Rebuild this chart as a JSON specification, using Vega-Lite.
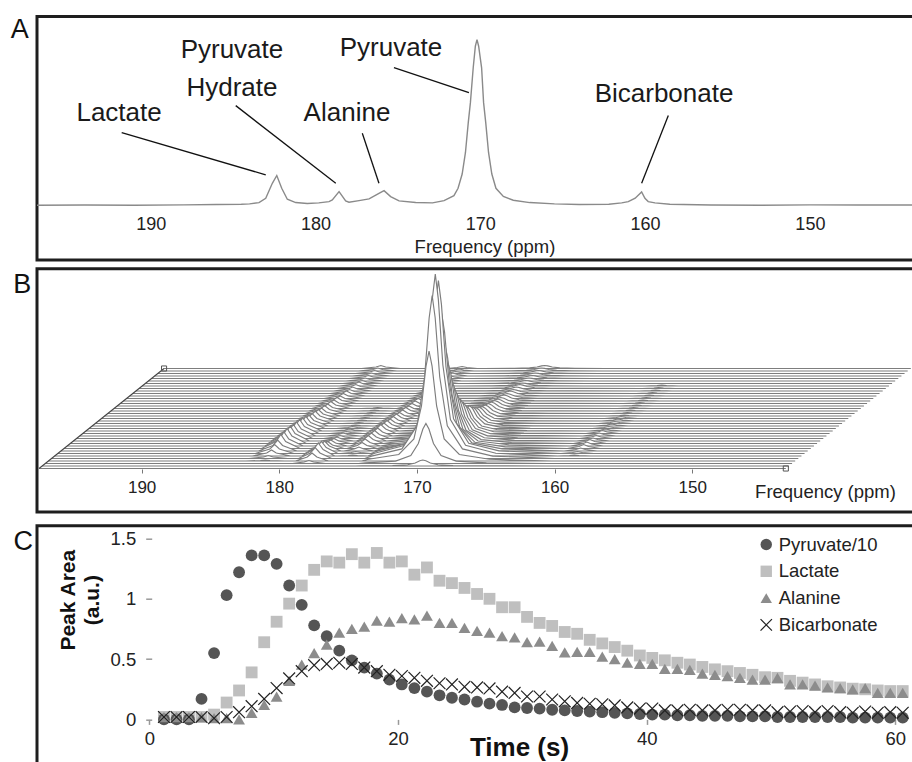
{
"$schema":"https://vega.github.io/schema/vega-lite/v6.json",
"background":"white",
"padding":{"left":9,"top":13.5,"right":0,"bottom":0},
"config":{"font":"Liberation Sans","view":{"stroke":"#1e1e1e","strokeWidth":3},
"axis":{"grid":false,"labelFont":"Liberation Sans","titleFont":"Liberation Sans","labelColor":"#222","titleColor":"#222","labelFlush":false,"labelOverlap":false},
"legend":{"orient":"none","legendX":720,"legendY":518.75,"labelFontSize":18.5,"labelColor":"#222","rowPadding":7.8,"labelOffset":3.2,"symbolSize":130,"padding":0,"symbolStrokeWidth":1.2,"labelFont":"Liberation Sans"}},
"spacing":5.2,
"vconcat":[
{"spacing":0,"vconcat":[
{"width":880,"height":243.5,
"title":{"text":"A","anchor":"start","dx":-23.5,"offset":-48,"baseline":"alphabetic","fontSize":27,"fontWeight":"normal","color":"#111"},
"layer":[
{"data":{"values":[
{"f":196.9,"v":0.2},{"f":194,"v":0.3},{"f":191,"v":0.2},{"f":188,"v":0.4},{"f":186,"v":0.6},{"f":184.5,"v":0.8},{"f":184,"v":1.0},{"f":183.43,"v":1.8},{"f":183.02,"v":4.4},{"f":182.62,"v":13.4},{"f":182.35,"v":18.1},{"f":182.05,"v":10.4},{"f":181.71,"v":3.8},{"f":181.2,"v":1.8},{"f":180.5,"v":1.2},{"f":179.8,"v":1.6},{"f":179.18,"v":2.4},{"f":178.98,"v":3.4},{"f":178.57,"v":8.4},{"f":178.17,"v":2.8},{"f":177.97,"v":2.0},{"f":177.36,"v":3.0},{"f":176.75,"v":4.0},{"f":176.15,"v":7.4},{"f":175.84,"v":9.0},{"f":175.44,"v":5.4},{"f":174.93,"v":2.8},{"f":173.92,"v":1.8},{"f":172.9,"v":1.6},{"f":172.2,"v":3.0},{"f":171.6,"v":6},{"f":171.35,"v":10.4},{"f":171.1,"v":19},{"f":170.9,"v":32},{"f":170.73,"v":50},{"f":170.6,"v":62},{"f":170.43,"v":83},{"f":170.3,"v":96},{"f":170.2,"v":100},{"f":170.1,"v":96},{"f":169.92,"v":83},{"f":169.8,"v":62},{"f":169.67,"v":50},{"f":169.5,"v":32},{"f":169.3,"v":19},{"f":169.05,"v":10.4},{"f":168.6,"v":5.5},{"f":168.0,"v":3.2},{"f":167.0,"v":1.8},{"f":165.5,"v":1.0},{"f":164,"v":0.6},{"f":162.2,"v":0.8},{"f":161.42,"v":1.6},{"f":161.02,"v":2.4},{"f":160.6,"v":4.4},{"f":160.21,"v":8.2},{"f":160.01,"v":4.4},{"f":159.81,"v":2.4},{"f":159.4,"v":1.6},{"f":158.5,"v":0.8},{"f":156,"v":0.3},{"f":153,"v":0.2},{"f":150,"v":0.4},{"f":147,"v":0.3},{"f":143.5,"v":0.3}]},
"mark":{"type":"line","color":"#8a8a8a","strokeWidth":1.4},
"encoding":{"x":{"field":"f","type":"quantitative","scale":{"domain":[143.5,196.9],"reverse":true,"nice":false,"zero":false},
"axis":{"values":[190,180,170,160,150],"domain":false,"ticks":false,"tickSize":0,"labelPadding":0,"offset":-44.8,"labelFontSize":18,"title":"Frequency (ppm)","titleFontSize":18.5,"titleFontWeight":"normal","titleX":447.5,"titleY":37.3,"titleBaseline":"alphabetic","titleAlign":"center"}},
"y":{"field":"v","type":"quantitative","scale":{"domain":[-32.8,113.9],"nice":false,"zero":false},"axis":null}}},
{"data":{"values":[{"x1":191.76,"y1":44.0,"x2":183.02,"y2":18.5},{"x1":184.84,"y1":60.2,"x2":178.77,"y2":13.4},{"x1":177.16,"y1":43.6,"x2":176.15,"y2":13.4},{"x1":175.24,"y1":83.1,"x2":170.69,"y2":68.1},{"x1":158.59,"y1":54.2,"x2":160.21,"y2":13.4}]},
"mark":{"type":"rule","color":"#111","strokeWidth":1.3},
"encoding":{"x":{"field":"x1","type":"quantitative","scale":{"domain":[143.5,196.9],"reverse":true,"nice":false,"zero":false}},"y":{"field":"y1","type":"quantitative","scale":{"domain":[-32.8,113.9],"nice":false,"zero":false}},"x2":{"field":"x2"},"y2":{"field":"y2"}}},
{"data":{"values":[{"label":"Lactate","x":191.92,"y":51.2},{"label":"Pyruvate","x":185.07,"y":88.7},{"label":"Hydrate","x":185.07,"y":66.3},{"label":"Alanine","x":178.09,"y":51.2},{"label":"Pyruvate","x":175.42,"y":90.1},{"label":"Bicarbonate","x":158.85,"y":62.2}]},
"mark":{"type":"text","fontSize":26,"color":"#1a1a1a","baseline":"alphabetic","align":"center"},
"encoding":{"x":{"field":"x","type":"quantitative","scale":{"domain":[143.5,196.9],"reverse":true,"nice":false,"zero":false}},"y":{"field":"y","type":"quantitative","scale":{"domain":[-32.8,113.9],"nice":false,"zero":false}},"text":{"field":"label"}}}
]}
]},
{"spacing":10,"vconcat":[
{"width":880,"height":243.3,
"title":{"text":"B","anchor":"start","dx":-23.5,"offset":-51.6,"baseline":"alphabetic","fontSize":27,"fontWeight":"normal","color":"#111"},
"layer":[
{"data":{"values":[
{"i":40,"f":[197.45,183.1,182.05,181.7,181.35,180.3,179.5,178.65,178.3,177.95,177.1,176.9,176.15,175.8,175.45,174.7,174.2,172.0,170.9,170.35,170.02,169.8,169.58,169.25,168.7,167.6,165.4,160.9,160.05,159.7,159.35,158.5,143.2],"v":[0,0,1.5,3,1.5,0,0,0,0,0,0,0,1,2,1,0,0,0.2,0.6,1.5,2.6,3,2.6,1.5,0.6,0.2,0,0,0,0,0,0,0]},
{"i":39,"f":[197.45,183.1,182.05,181.7,181.35,180.3,179.5,178.65,178.3,177.95,177.1,176.9,176.15,175.8,175.45,174.7,174.2,172.0,170.9,170.35,170.02,169.8,169.58,169.25,168.7,167.6,165.4,160.9,160.05,159.7,159.35,158.5,143.2],"v":[0,0,1.5,3,1.5,0,0,0,0,0,0,0,1,2,1,0,0,0.2,0.6,1.5,2.6,3,2.6,1.5,0.6,0.2,0,0,0,0,0,0,0]},
{"i":38,"f":[197.45,183.1,182.05,181.7,181.35,180.3,179.5,178.65,178.3,177.95,177.1,176.9,176.15,175.8,175.45,174.7,174.2,172.0,170.9,170.35,170.02,169.8,169.58,169.25,168.7,167.6,165.4,160.9,160.05,159.7,159.35,158.5,143.2],"v":[0,0,1.5,3,1.5,0,0,0,0,0,0,0,1,2,1,0,0,0.2,0.6,1.5,2.6,3,2.6,1.5,0.6,0.2,0,0,0,0,0,0,0]},
{"i":37,"f":[197.45,183.1,182.05,181.7,181.35,180.3,179.5,178.65,178.3,177.95,177.1,176.9,176.15,175.8,175.45,174.7,174.2,172.0,170.9,170.35,170.02,169.8,169.58,169.25,168.7,167.6,165.4,160.9,160.05,159.7,159.35,158.5,143.2],"v":[0,0,1.5,3,1.5,0,0,0,0,0,0,0,1.5,3,1.5,0,0,0.2,0.6,1.5,2.6,3,2.6,1.5,0.6,0.2,0,0,0,0,0,0,0]},
{"i":36,"f":[197.45,183.1,182.05,181.7,181.35,180.3,179.5,178.65,178.3,177.95,177.1,176.9,176.15,175.8,175.45,174.7,174.2,172.0,170.9,170.35,170.02,169.8,169.58,169.25,168.7,167.6,165.4,160.9,160.05,159.7,159.35,158.5,143.2],"v":[0,0,1.5,3,1.5,0,0,0,0,0,0,0,1.5,3,1.5,0,0,0.2,0.6,1.5,2.6,3,2.6,1.5,0.6,0.2,0,0,0,0,0,0,0]},
{"i":35,"f":[197.45,183.1,182.05,181.7,181.35,180.3,179.5,178.65,178.3,177.95,177.1,176.9,176.15,175.8,175.45,174.7,174.2,172.0,170.9,170.35,170.02,169.8,169.58,169.25,168.7,167.6,165.4,160.9,160.05,159.7,159.35,158.5,143.2],"v":[0,0,1.5,3,1.5,0,0,0,0,0,0,0,1.5,3,1.5,0,0,0.2,0.6,1.5,2.6,3,2.6,1.5,0.6,0.2,0,0,0,0,0,0,0]},
{"i":34,"f":[197.45,183.1,182.05,181.7,181.35,180.3,179.5,178.65,178.3,177.95,177.1,176.9,176.15,175.8,175.45,174.7,174.2,172.0,170.9,170.35,170.02,169.8,169.58,169.25,168.7,167.6,165.4,160.9,160.05,159.7,159.35,158.5,143.2],"v":[0,0,1.5,3,1.5,0,0,0,0,0,0,0,1.5,3,1.5,0,0,0.2,0.6,1.5,2.6,3,2.6,1.5,0.6,0.2,0,0,0,0,0,0,0]},
{"i":33,"f":[197.45,183.1,182.05,181.7,181.35,180.3,179.5,178.65,178.3,177.95,177.1,176.9,176.15,175.8,175.45,174.7,174.2,172.0,170.9,170.35,170.02,169.8,169.58,169.25,168.7,167.6,165.4,160.9,160.05,159.7,159.35,158.5,143.2],"v":[0,0,2,4,2,0,0,0,0,0,0,0,1.5,3,1.5,0,0,0.2,0.6,1.5,2.6,3,2.6,1.5,0.6,0.2,0,0,0.5,1,0.5,0,0]},
{"i":32,"f":[197.45,183.1,182.05,181.7,181.35,180.3,179.5,178.65,178.3,177.95,177.1,176.9,176.15,175.8,175.45,174.7,174.2,172.0,170.9,170.35,170.02,169.8,169.58,169.25,168.7,167.6,165.4,160.9,160.05,159.7,159.35,158.5,143.2],"v":[0,0,2,4,2,0,0,0,0,0,0,0,1.5,3,1.5,0,0.1,0.2,0.8,2,3.4,4,3.4,2,0.8,0.2,0.1,0,0.5,1,0.5,0,0]},
{"i":31,"f":[197.45,183.1,182.05,181.7,181.35,180.3,179.5,178.65,178.3,177.95,177.1,176.9,176.15,175.8,175.45,174.7,174.2,172.0,170.9,170.35,170.02,169.8,169.58,169.25,168.7,167.6,165.4,160.9,160.05,159.7,159.35,158.5,143.2],"v":[0,0,2,4,2,0,0,0,0,0,0,0,1.5,3,1.5,0,0.1,0.2,0.8,2,3.4,4,3.4,2,0.8,0.2,0.1,0,0.5,1,0.5,0,0]},
{"i":30,"f":[197.45,183.1,182.05,181.7,181.35,180.3,179.5,178.65,178.3,177.95,177.1,176.9,176.15,175.8,175.45,174.7,174.2,172.0,170.9,170.35,170.02,169.8,169.58,169.25,168.7,167.6,165.4,160.9,160.05,159.7,159.35,158.5,143.2],"v":[0,0,2,4,2,0,0,0,0,0,0,0,2,4,2,0,0.1,0.2,0.8,2,3.4,4,3.4,2,0.8,0.2,0.1,0,0.5,1,0.5,0,0]},
{"i":29,"f":[197.45,183.1,182.05,181.7,181.35,180.3,179.5,178.65,178.3,177.95,177.1,176.9,176.15,175.8,175.45,174.7,174.2,172.0,170.9,170.35,170.02,169.8,169.58,169.25,168.7,167.6,165.4,160.9,160.05,159.7,159.35,158.5,143.2],"v":[0,0,2.5,5,2.5,0,0,0,0,0,0,0,2,4,2,0,0.1,0.3,1,2.5,4.3,5,4.3,2.5,1,0.3,0.1,0,0.5,1,0.5,0,0]},
{"i":28,"f":[197.45,183.1,182.05,181.7,181.35,180.3,179.5,178.65,178.3,177.95,177.1,176.9,176.15,175.8,175.45,174.7,174.2,172.0,170.9,170.35,170.02,169.8,169.58,169.25,168.7,167.6,165.4,160.9,160.05,159.7,159.35,158.5,143.2],"v":[0,0,2.5,5,2.5,0,0,0,0,0,0,0,2,4,2,0,0.1,0.3,1,2.5,4.3,5,4.3,2.5,1,0.3,0.1,0,0.5,1,0.5,0,0]},
{"i":27,"f":[197.45,183.1,182.05,181.7,181.35,180.3,179.5,178.65,178.3,177.95,177.1,176.9,176.15,175.8,175.45,174.7,174.2,172.0,170.9,170.35,170.02,169.8,169.58,169.25,168.7,167.6,165.4,160.9,160.05,159.7,159.35,158.5,143.2],"v":[0,0,2.5,5,2.5,0,0,0,0,0,0,0,2,4,2,0,0.1,0.4,1.2,3,5.2,6,5.2,3,1.2,0.4,0.1,0,0.5,1,0.5,0,0]},
{"i":26,"f":[197.45,183.1,182.05,181.7,181.35,180.3,179.5,178.65,178.3,177.95,177.1,176.9,176.15,175.8,175.45,174.7,174.2,172.0,170.9,170.35,170.02,169.8,169.58,169.25,168.7,167.6,165.4,160.9,160.05,159.7,159.35,158.5,143.2],"v":[0,0,3,6,3,0,0,0,0,0,0,0,2.5,5,2.5,0,0.1,0.4,1.2,3,5.2,6,5.2,3,1.2,0.4,0.1,0,0.5,1,0.5,0,0]},
{"i":25,"f":[197.45,183.1,182.05,181.7,181.35,180.3,179.5,178.65,178.3,177.95,177.1,176.9,176.15,175.8,175.45,174.7,174.2,172.0,170.9,170.35,170.02,169.8,169.58,169.25,168.7,167.6,165.4,160.9,160.05,159.7,159.35,158.5,143.2],"v":[0,0,3,6,3,0,0,0,0,0,0,0,2.5,5,2.5,0,0.1,0.4,1.4,3.5,6,7,6,3.5,1.4,0.4,0.1,0,0.5,1,0.5,0,0]},
{"i":24,"f":[197.45,183.1,182.05,181.7,181.35,180.3,179.5,178.65,178.3,177.95,177.1,176.9,176.15,175.8,175.45,174.7,174.2,172.0,170.9,170.35,170.02,169.8,169.58,169.25,168.7,167.6,165.4,160.9,160.05,159.7,159.35,158.5,143.2],"v":[0,0,3.5,7,3.5,0,0,0.5,1,0.5,0,0,2.5,5,2.5,0,0.1,0.5,1.6,4,6.9,8,6.9,4,1.6,0.5,0.1,0,0.5,1,0.5,0,0]},
{"i":23,"f":[197.45,183.1,182.05,181.7,181.35,180.3,179.5,178.65,178.3,177.95,177.1,176.9,176.15,175.8,175.45,174.7,174.2,172.0,170.9,170.35,170.02,169.8,169.58,169.25,168.7,167.6,165.4,160.9,160.05,159.7,159.35,158.5,143.2],"v":[0,0,3.5,7,3.5,0,0,0.5,1,0.5,0,0,2.5,5,2.5,0,0.1,0.5,1.8,4.5,7.8,9,7.8,4.5,1.8,0.5,0.1,0,0.5,1,0.5,0,0]},
{"i":22,"f":[197.45,183.1,182.05,181.7,181.35,180.3,179.5,178.65,178.3,177.95,177.1,176.9,176.15,175.8,175.45,174.7,174.2,172.0,170.9,170.35,170.02,169.8,169.58,169.25,168.7,167.6,165.4,160.9,160.05,159.7,159.35,158.5,143.2],"v":[0,0,4,8,4,0,0,0.5,1,0.5,0,0,3,6,3,0,0.2,0.6,2,5,8.6,10,8.6,5,2,0.6,0.2,0,0.5,1,0.5,0,0]},
{"i":21,"f":[197.45,183.1,182.05,181.7,181.35,180.3,179.5,178.65,178.3,177.95,177.1,176.9,176.15,175.8,175.45,174.7,174.2,172.0,170.9,170.35,170.02,169.8,169.58,169.25,168.7,167.6,165.4,160.9,160.05,159.7,159.35,158.5,143.2],"v":[0,0,4,8,4,0,0,0.5,1,0.5,0,0,3,6,3,0,0.2,0.6,2.2,5.5,9.5,11,9.5,5.5,2.2,0.6,0.2,0,0.5,1,0.5,0,0]},
{"i":20,"f":[197.45,183.1,182.05,181.7,181.35,180.3,179.5,178.65,178.3,177.95,177.1,176.9,176.15,175.8,175.45,174.7,174.2,172.0,170.9,170.35,170.02,169.8,169.58,169.25,168.7,167.6,165.4,160.9,160.05,159.7,159.35,158.5,143.2],"v":[0,0,4.5,9,4.5,0,0,0.5,1,0.5,0,0,3,6,3,0,0.2,0.7,2.4,6,10.3,12,10.3,6,2.4,0.7,0.2,0,1,2,1,0,0]},
{"i":19,"f":[197.45,183.1,182.05,181.7,181.35,180.3,179.5,178.65,178.3,177.95,177.1,176.9,176.15,175.8,175.45,174.7,174.2,172.0,170.9,170.35,170.02,169.8,169.58,169.25,168.7,167.6,165.4,160.9,160.05,159.7,159.35,158.5,143.2],"v":[0,0,5,10,5,0,0,0.5,1,0.5,0,0,3.5,7,3.5,0,0.2,0.8,2.8,7,12.1,14,12.1,7,2.8,0.8,0.2,0,1,2,1,0,0]},
{"i":18,"f":[197.45,183.1,182.05,181.7,181.35,180.3,179.5,178.65,178.3,177.95,177.1,176.9,176.15,175.8,175.45,174.7,174.2,172.0,170.9,170.35,170.02,169.8,169.58,169.25,168.7,167.6,165.4,160.9,160.05,159.7,159.35,158.5,143.2],"v":[0,0,5,10,5,0,0,0.5,1,0.5,0,0,3.5,7,3.5,0,0.2,0.9,3.2,8,13.8,16,13.8,8,3.2,0.9,0.2,0,1,2,1,0,0]},
{"i":17,"f":[197.45,183.1,182.05,181.7,181.35,180.3,179.5,178.65,178.3,177.95,177.1,176.9,176.15,175.8,175.45,174.7,174.2,172.0,170.9,170.35,170.02,169.8,169.58,169.25,168.7,167.6,165.4,160.9,160.05,159.7,159.35,158.5,143.2],"v":[0,0,5.5,11,5.5,0,0,0.5,1,0.5,0,0,3.5,7,3.5,0,0.3,1.1,3.8,9.5,16.4,19,16.4,9.5,3.8,1.1,0.3,0,1,2,1,0,0]},
{"i":16,"f":[197.45,183.1,182.05,181.7,181.35,180.3,179.5,178.65,178.3,177.95,177.1,176.9,176.15,175.8,175.45,174.7,174.2,172.0,170.9,170.35,170.02,169.8,169.58,169.25,168.7,167.6,165.4,160.9,160.05,159.7,159.35,158.5,143.2],"v":[0,0,6,12,6,0,0,1,2,1,0,0,4,8,4,0,0.3,1.4,4.6,11.5,19.8,23,19.8,11.5,4.6,1.4,0.3,0,1,2,1,0,0]},
{"i":15,"f":[197.45,183.1,182.05,181.7,181.35,180.3,179.5,178.65,178.3,177.95,177.1,176.9,176.15,175.8,175.45,174.7,174.2,172.0,170.9,170.35,170.02,169.8,169.58,169.25,168.7,167.6,165.4,160.9,160.05,159.7,159.35,158.5,143.2],"v":[0,0,6.5,13,6.5,0,0,1,2,1,0,0,4,8,4,0,0.4,1.5,5,12.5,21.6,25,21.6,12.5,5,1.5,0.4,0,1,2,1,0,0]},
{"i":14,"f":[197.45,183.1,182.05,181.7,181.35,180.3,179.5,178.65,178.3,177.95,177.1,176.9,176.15,175.8,175.45,174.7,174.2,172.0,170.9,170.35,170.02,169.8,169.58,169.25,168.7,167.6,165.4,160.9,160.05,159.7,159.35,158.5,143.2],"v":[0,0,7,14,7,0,0,1,2,1,0,0,4.5,9,4.5,0,0.5,1.8,6.2,15.5,26.7,31,26.7,15.5,6.2,1.8,0.5,0,1.5,3,1.5,0,0]},
{"i":13,"f":[197.45,183.1,182.05,181.7,181.35,180.3,179.5,178.65,178.3,177.95,177.1,176.9,176.15,175.8,175.45,174.7,174.2,172.0,170.9,170.35,170.02,169.8,169.58,169.25,168.7,167.6,165.4,160.9,160.05,159.7,159.35,158.5,143.2],"v":[0,0,7,14,7,0,0,1.5,3,1.5,0,0,4,8,4,0,0.6,2.2,7.4,18.5,31.9,37,31.9,18.5,7.4,2.2,0.6,0,1.5,3,1.5,0,0]},
{"i":12,"f":[197.45,183.1,182.05,181.7,181.35,180.3,179.5,178.65,178.3,177.95,177.1,176.9,176.15,175.8,175.45,174.7,174.2,172.0,170.9,170.35,170.02,169.8,169.58,169.25,168.7,167.6,165.4,160.9,160.05,159.7,159.35,158.5,143.2],"v":[0,0,7,14,7,0,0,1.5,3,1.5,0,0,4,8,4,0,0.7,2.6,8.8,22,37.9,44,37.9,22,8.8,2.6,0.7,0,1.5,3,1.5,0,0]},
{"i":11,"f":[197.45,183.1,182.05,181.7,181.35,180.3,179.5,178.65,178.3,177.95,177.1,176.9,176.15,175.8,175.45,174.7,174.2,172.0,170.9,170.35,170.02,169.8,169.58,169.25,168.7,167.6,165.4,160.9,160.05,159.7,159.35,158.5,143.2],"v":[0,0,7.5,15,7.5,0,0,2,4,2,0,0,4,8,4,0,0.8,3.2,10.8,27,46.5,54,46.5,27,10.8,3.2,0.8,0,1.5,3,1.5,0,0]},
{"i":10,"f":[197.45,183.1,182.05,181.7,181.35,180.3,179.5,178.65,178.3,177.95,177.1,176.9,176.15,175.8,175.45,174.7,174.2,172.0,170.9,170.35,170.02,169.8,169.58,169.25,168.7,167.6,165.4,160.9,160.05,159.7,159.35,158.5,143.2],"v":[0,0,7.5,15,7.5,0,0,2.5,5,2.5,0,0,4,8,4,0,1,3.9,13.2,33,56.9,66,56.9,33,13.2,3.9,1,0,2,4,2,0,0]},
{"i":9,"f":[197.45,183.1,182.05,181.7,181.35,180.3,179.5,178.65,178.3,177.95,177.1,176.9,176.15,175.8,175.45,174.7,174.2,172.0,170.9,170.35,170.02,169.8,169.58,169.25,168.7,167.6,165.4,160.9,160.05,159.7,159.35,158.5,143.2],"v":[0,0,7,14,7,0,0,3,6,3,0,0,3.5,7,3.5,0,1.3,5,16.8,42,72.4,84,72.4,42,16.8,5,1.3,0,2,4,2,0,0]},
{"i":8,"f":[197.45,183.1,182.05,181.7,181.35,180.3,179.5,178.65,178.3,177.95,177.1,176.9,176.15,175.8,175.45,174.7,174.2,172.0,170.9,170.35,170.02,169.8,169.58,169.25,168.7,167.6,165.4,160.9,160.05,159.7,159.35,158.5,143.2],"v":[0,0,7,14,7,0,0,3.5,7,3.5,0,0,3,6,3,0,1.6,6.2,21,52.5,90.5,105,90.5,52.5,21,6.2,1.6,0,2,4,2,0,0]},
{"i":7,"f":[197.45,183.1,182.05,181.7,181.35,180.3,179.5,178.65,178.3,177.95,177.1,176.9,176.15,175.8,175.45,174.7,174.2,172.0,170.9,170.35,170.02,169.8,169.58,169.25,168.7,167.6,165.4,160.9,160.05,159.7,159.35,158.5,143.2],"v":[0,0,5.5,11,5.5,0,0,5,10,5,0,0,2,4,2,0,2.1,8.1,27.6,69,119,138,119,69,27.6,8.1,2.1,0,1.5,3,1.5,0,0]},
{"i":6,"f":[197.45,183.1,182.05,181.7,181.35,180.3,179.5,178.65,178.3,177.95,177.1,176.9,176.15,175.8,175.45,174.7,174.2,172.0,170.9,170.35,170.02,169.8,169.58,169.25,168.7,167.6,165.4,160.9,160.05,159.7,159.35,158.5,143.2],"v":[0,0,4.5,9,4.5,0,0,6,12,6,0,0,1,2,1,0,2.6,10.2,34.6,86.5,149.1,173,149.1,86.5,34.6,10.2,2.6,0,1,2,1,0,0]},
{"i":5,"f":[197.45,183.1,182.05,181.7,181.35,180.3,179.5,178.65,178.3,177.95,177.1,176.9,176.15,175.8,175.45,174.7,174.2,172.0,170.9,170.35,170.02,169.8,169.58,169.25,168.7,167.6,165.4,160.9,160.05,159.7,159.35,158.5,143.2],"v":[0,0,3,6,3,0,0,6.5,13,6.5,0,0,0.5,1,0.5,0,2.7,10.7,36.4,91,156.9,182,156.9,91,36.4,10.7,2.7,0,0.5,1,0.5,0,0]},
{"i":4,"f":[197.45,183.1,182.05,181.7,181.35,180.3,179.5,178.65,178.3,177.95,177.1,176.9,176.15,175.8,175.45,174.7,174.2,172.0,170.9,170.35,170.02,169.8,169.58,169.25,168.7,167.6,165.4,160.9,160.05,159.7,159.35,158.5,143.2],"v":[0,0,1.5,3,1.5,0,0,5.5,11,5.5,0,0,0,0,0,0,2.4,9.6,32.6,81.5,140.5,163,140.5,81.5,32.6,9.6,2.4,0,0,0,0,0,0]},
{"i":3,"f":[197.45,183.1,182.05,181.7,181.35,180.3,179.5,178.65,178.3,177.95,177.1,176.9,176.15,175.8,175.45,174.7,174.2,172.0,170.9,170.35,170.02,169.8,169.58,169.25,168.7,167.6,165.4,160.9,160.05,159.7,159.35,158.5,143.2],"v":[0,0,0.5,1,0.5,0,0,4,8,4,0,0,0,0,0,0,1.7,6.5,22,55,94.8,110,94.8,55,22,6.5,1.7,0,0,0,0,0,0]},
{"i":2,"f":[197.45,183.1,182.05,181.7,181.35,180.3,179.5,178.65,178.3,177.95,177.1,176.9,176.15,175.8,175.45,174.7,174.2,172.0,170.9,170.35,170.02,169.8,169.58,169.25,168.7,167.6,165.4,160.9,160.05,159.7,159.35,158.5,143.2],"v":[0,0,0,0,0,0,0,1.5,3,1.5,0,0,0,0,0,0,0.6,2.4,8,20,34.5,40,34.5,20,8,2.4,0.6,0,0,0,0,0,0]},
{"i":1,"f":[197.45,183.1,182.05,181.7,181.35,180.3,179.5,178.65,178.3,177.95,177.1,176.9,176.15,175.8,175.45,174.7,174.2,172.0,170.9,170.35,170.02,169.8,169.58,169.25,168.7,167.6,165.4,160.9,160.05,159.7,159.35,158.5,143.2],"v":[0,0,0,0,0,0,0,0,0,0,0,0,0,0,0,0,0.1,0.4,1.2,3,5.2,6,5.2,3,1.2,0.4,0.1,0,0,0,0,0,0]},
{"i":0,"f":[197.45,183.1,182.05,181.7,181.35,180.3,179.5,178.65,178.3,177.95,177.1,176.9,176.15,175.8,175.45,174.7,174.2,172.0,170.9,170.35,170.02,169.8,169.58,169.25,168.7,167.6,165.4,160.9,160.05,159.7,159.35,158.5,143.2],"v":[0,0,0,0,0,0,0,0,0,0,0,0,0,0,0,0,0,0,0,0,0,0,0,0,0,0,0,0,0,0,0,0,0]}
]},
"transform":[{"flatten":["f","v"]},{"calculate":"datum.f - datum.i*0.227","as":"xs"},{"calculate":"datum.i*2.5","as":"yb"},{"calculate":"datum.i*2.5 + datum.v","as":"ys"}],
"mark":{"type":"area","fill":"white","fillOpacity":1,"stroke":"#7d7d7d","strokeWidth":1.15},
"encoding":{"x":{"field":"xs","type":"quantitative","scale":{"domain":[133.67,197.6],"reverse":true,"nice":false,"zero":false},
"axis":{"values":[190,180,170,160,150],"domain":false,"ticks":true,"tickSize":4,"tickColor":"#777","tickWidth":1,"offset":-43,"labelPadding":6.4,"labelFontSize":17,"title":"Frequency (ppm)","titleFontSize":18.5,"titleFontWeight":"normal","titleX":788,"titleY":28.3,"titleBaseline":"alphabetic","titleAlign":"center"}},
"y":{"field":"ys","type":"quantitative","stack":null,"scale":{"domain":[-43.5,199.8],"nice":false,"zero":false},"axis":null},
"y2":{"field":"yb"},
"detail":{"field":"i","type":"quantitative"}}},
{"data":{"values":[{"i":0,"f":197.45},{"i":40,"f":197.45}]},
"transform":[{"calculate":"datum.f - datum.i*0.227","as":"xs"},{"calculate":"datum.i*2.5","as":"ys"}],
"mark":{"type":"line","color":"#444","strokeWidth":1.1},
"encoding":{"x":{"field":"xs","type":"quantitative","scale":{"domain":[133.67,197.6],"reverse":true,"nice":false,"zero":false}},"y":{"field":"ys","type":"quantitative","scale":{"domain":[-43.5,199.8],"nice":false,"zero":false}}}},
{"data":{"values":[{"i":40,"f":197.45},{"i":0,"f":143.2}]},
"transform":[{"calculate":"datum.f - datum.i*0.227","as":"xs"},{"calculate":"datum.i*2.5","as":"ys"}],
"mark":{"type":"point","shape":"square","size":26,"filled":false,"color":"#555","strokeWidth":1,"opacity":1},
"encoding":{"x":{"field":"xs","type":"quantitative","scale":{"domain":[133.67,197.6],"reverse":true,"nice":false,"zero":false}},"y":{"field":"ys","type":"quantitative","scale":{"domain":[-43.5,199.8],"nice":false,"zero":false}}}}
]},
{"width":880,"height":245,
"title":{"text":"C","anchor":"start","dx":-23.5,"offset":-51.7,"baseline":"alphabetic","fontSize":27,"fontWeight":"normal","color":"#111"},
"layer":[
{"mark":{"type":"rule","color":"#999","strokeWidth":1.5},
"encoding":{"x":{"datum":0,"type":"quantitative","scale":{"domain":[-9.03,61.74],"nice":false,"zero":false}},"y":{"datum":0,"type":"quantitative","scale":{"domain":[-0.425,1.606],"nice":false,"zero":false}},"y2":{"datum":1.5}}},
{"mark":{"type":"rule","color":"#999","strokeWidth":1.5},
"encoding":{"x":{"datum":0,"type":"quantitative","scale":{"domain":[-9.03,61.74],"nice":false,"zero":false}},"x2":{"datum":61.74},"y":{"datum":0,"type":"quantitative","scale":{"domain":[-0.425,1.606],"nice":false,"zero":false}}}},
{"data":{"values":[
{"t":1.18,"Pyruvate/10":0,"Lactate":0.02,"Alanine":0.02,"Bicarbonate":0.02},
{"t":2.19,"Pyruvate/10":0,"Lactate":0.02,"Alanine":0.02,"Bicarbonate":0.02},
{"t":3.19,"Pyruvate/10":0,"Lactate":0.02,"Alanine":0.02,"Bicarbonate":0.02},
{"t":4.2,"Pyruvate/10":0.17,"Lactate":0.02,"Alanine":0.02,"Bicarbonate":0.02},
{"t":5.21,"Pyruvate/10":0.55,"Lactate":0.04,"Alanine":0.01,"Bicarbonate":0.01},
{"t":6.22,"Pyruvate/10":1.03,"Lactate":0.14,"Alanine":0.01,"Bicarbonate":0.02},
{"t":7.22,"Pyruvate/10":1.22,"Lactate":0.24,"Alanine":0.0,"Bicarbonate":0.06},
{"t":8.23,"Pyruvate/10":1.36,"Lactate":0.39,"Alanine":0.055,"Bicarbonate":0.11},
{"t":9.24,"Pyruvate/10":1.36,"Lactate":0.64,"Alanine":0.12,"Bicarbonate":0.17},
{"t":10.24,"Pyruvate/10":1.29,"Lactate":0.81,"Alanine":0.19,"Bicarbonate":0.26},
{"t":11.25,"Pyruvate/10":1.11,"Lactate":0.96,"Alanine":0.32,"Bicarbonate":0.34},
{"t":12.26,"Pyruvate/10":0.95,"Lactate":1.11,"Alanine":0.455,"Bicarbonate":0.40},
{"t":13.26,"Pyruvate/10":0.78,"Lactate":1.24,"Alanine":0.55,"Bicarbonate":0.45},
{"t":14.27,"Pyruvate/10":0.69,"Lactate":1.31,"Alanine":0.62,"Bicarbonate":0.46},
{"t":15.28,"Pyruvate/10":0.57,"Lactate":1.30,"Alanine":0.72,"Bicarbonate":0.47},
{"t":16.29,"Pyruvate/10":0.49,"Lactate":1.37,"Alanine":0.75,"Bicarbonate":0.46},
{"t":17.29,"Pyruvate/10":0.43,"Lactate":1.30,"Alanine":0.77,"Bicarbonate":0.43},
{"t":18.3,"Pyruvate/10":0.38,"Lactate":1.38,"Alanine":0.82,"Bicarbonate":0.40},
{"t":19.31,"Pyruvate/10":0.33,"Lactate":1.30,"Alanine":0.81,"Bicarbonate":0.37},
{"t":20.31,"Pyruvate/10":0.29,"Lactate":1.31,"Alanine":0.84,"Bicarbonate":0.36},
{"t":21.32,"Pyruvate/10":0.26,"Lactate":1.20,"Alanine":0.83,"Bicarbonate":0.345},
{"t":22.33,"Pyruvate/10":0.23,"Lactate":1.26,"Alanine":0.86,"Bicarbonate":0.32},
{"t":23.34,"Pyruvate/10":0.2,"Lactate":1.15,"Alanine":0.80,"Bicarbonate":0.30},
{"t":24.34,"Pyruvate/10":0.18,"Lactate":1.13,"Alanine":0.80,"Bicarbonate":0.29},
{"t":25.35,"Pyruvate/10":0.165,"Lactate":1.09,"Alanine":0.76,"Bicarbonate":0.27},
{"t":26.36,"Pyruvate/10":0.147,"Lactate":1.04,"Alanine":0.735,"Bicarbonate":0.265},
{"t":27.36,"Pyruvate/10":0.131,"Lactate":1.0,"Alanine":0.72,"Bicarbonate":0.257},
{"t":28.37,"Pyruvate/10":0.12,"Lactate":0.93,"Alanine":0.69,"Bicarbonate":0.23},
{"t":29.38,"Pyruvate/10":0.10,"Lactate":0.93,"Alanine":0.68,"Bicarbonate":0.22},
{"t":30.38,"Pyruvate/10":0.095,"Lactate":0.85,"Alanine":0.64,"Bicarbonate":0.19},
{"t":31.39,"Pyruvate/10":0.09,"Lactate":0.80,"Alanine":0.645,"Bicarbonate":0.19},
{"t":32.4,"Pyruvate/10":0.08,"Lactate":0.775,"Alanine":0.61,"Bicarbonate":0.165},
{"t":33.41,"Pyruvate/10":0.075,"Lactate":0.725,"Alanine":0.555,"Bicarbonate":0.15},
{"t":34.41,"Pyruvate/10":0.07,"Lactate":0.71,"Alanine":0.56,"Bicarbonate":0.137},
{"t":35.42,"Pyruvate/10":0.065,"Lactate":0.66,"Alanine":0.56,"Bicarbonate":0.13},
{"t":36.43,"Pyruvate/10":0.06,"Lactate":0.63,"Alanine":0.52,"Bicarbonate":0.125},
{"t":37.43,"Pyruvate/10":0.055,"Lactate":0.60,"Alanine":0.50,"Bicarbonate":0.116},
{"t":38.44,"Pyruvate/10":0.05,"Lactate":0.57,"Alanine":0.47,"Bicarbonate":0.10},
{"t":39.45,"Pyruvate/10":0.045,"Lactate":0.53,"Alanine":0.46,"Bicarbonate":0.09},
{"t":40.45,"Pyruvate/10":0.04,"Lactate":0.51,"Alanine":0.46,"Bicarbonate":0.09},
{"t":41.46,"Pyruvate/10":0.04,"Lactate":0.49,"Alanine":0.42,"Bicarbonate":0.075},
{"t":42.47,"Pyruvate/10":0.035,"Lactate":0.47,"Alanine":0.42,"Bicarbonate":0.075},
{"t":43.47,"Pyruvate/10":0.035,"Lactate":0.455,"Alanine":0.41,"Bicarbonate":0.08},
{"t":44.48,"Pyruvate/10":0.03,"Lactate":0.435,"Alanine":0.38,"Bicarbonate":0.075},
{"t":45.49,"Pyruvate/10":0.03,"Lactate":0.415,"Alanine":0.37,"Bicarbonate":0.075},
{"t":46.5,"Pyruvate/10":0.03,"Lactate":0.40,"Alanine":0.36,"Bicarbonate":0.08},
{"t":47.5,"Pyruvate/10":0.025,"Lactate":0.385,"Alanine":0.345,"Bicarbonate":0.08},
{"t":48.51,"Pyruvate/10":0.025,"Lactate":0.37,"Alanine":0.33,"Bicarbonate":0.075},
{"t":49.52,"Pyruvate/10":0.025,"Lactate":0.35,"Alanine":0.33,"Bicarbonate":0.075},
{"t":50.52,"Pyruvate/10":0.02,"Lactate":0.345,"Alanine":0.345,"Bicarbonate":0.06},
{"t":51.53,"Pyruvate/10":0.02,"Lactate":0.32,"Alanine":0.29,"Bicarbonate":0.065},
{"t":52.54,"Pyruvate/10":0.02,"Lactate":0.305,"Alanine":0.29,"Bicarbonate":0.07},
{"t":53.54,"Pyruvate/10":0.02,"Lactate":0.29,"Alanine":0.28,"Bicarbonate":0.06},
{"t":54.55,"Pyruvate/10":0.02,"Lactate":0.275,"Alanine":0.265,"Bicarbonate":0.07},
{"t":55.56,"Pyruvate/10":0.02,"Lactate":0.265,"Alanine":0.26,"Bicarbonate":0.06},
{"t":56.57,"Pyruvate/10":0.015,"Lactate":0.255,"Alanine":0.25,"Bicarbonate":0.055},
{"t":57.57,"Pyruvate/10":0.015,"Lactate":0.25,"Alanine":0.26,"Bicarbonate":0.065},
{"t":58.58,"Pyruvate/10":0.015,"Lactate":0.24,"Alanine":0.22,"Bicarbonate":0.055},
{"t":59.59,"Pyruvate/10":0.015,"Lactate":0.235,"Alanine":0.22,"Bicarbonate":0.06},
{"t":60.59,"Pyruvate/10":0.015,"Lactate":0.235,"Alanine":0.22,"Bicarbonate":0.055}]},
"transform":[{"fold":["Lactate","Pyruvate/10","Alanine","Bicarbonate"],"as":["series","value"]}],
"mark":{"type":"point","opacity":1,"size":140,"strokeWidth":1.2},
"encoding":{
"x":{"field":"t","type":"quantitative","scale":{"domain":[-9.03,61.74],"nice":false,"zero":false},
"axis":{"values":[0,20,40,60],"format":"d","domain":false,"ticks":true,"tickSize":5,"tickColor":"#999","tickWidth":1.5,"offset":-51.3,"labelPadding":5,"labelFontSize":18.5,"title":"Time (s)","titleFontSize":26,"titleFontWeight":"bold","titleColor":"#111","titleX":482,"titleY":36.5,"titleBaseline":"alphabetic","titleAlign":"center"}},
"y":{"field":"value","type":"quantitative","scale":{"domain":[-0.425,1.606],"nice":false,"zero":false},
"axis":{"values":[0,0.5,1,1.5],"format":".1~f","domain":false,"ticks":true,"tickSize":6,"tickColor":"#999","tickWidth":1.5,"offset":-114.7,"labelPadding":10,"labelFontSize":18.5,"title":["Peak Area","(a.u.)"],"titleFontSize":21,"titleFontWeight":"bold","titleColor":"#111","titleX":-77.7,"titleY":74,"titleAngle":-90,"titleAlign":"center","titleBaseline":"alphabetic","titleLineHeight":24}},
"fill":{"field":"series","type":"nominal","title":null,"scale":{"domain":["Pyruvate/10","Lactate","Alanine","Bicarbonate"],"range":["#555555","#bfbfbf","#8c8c8c","transparent"]}},
"stroke":{"field":"series","type":"nominal","title":null,"scale":{"domain":["Pyruvate/10","Lactate","Alanine","Bicarbonate"],"range":["transparent","transparent","transparent","#222222"]}},
"shape":{"field":"series","type":"nominal","title":null,"scale":{"domain":["Pyruvate/10","Lactate","Alanine","Bicarbonate"],"range":["circle","square","triangle-up","M-1,-1L1,1M1,-1L-1,1"]}}}}
]}
]}
]
}
